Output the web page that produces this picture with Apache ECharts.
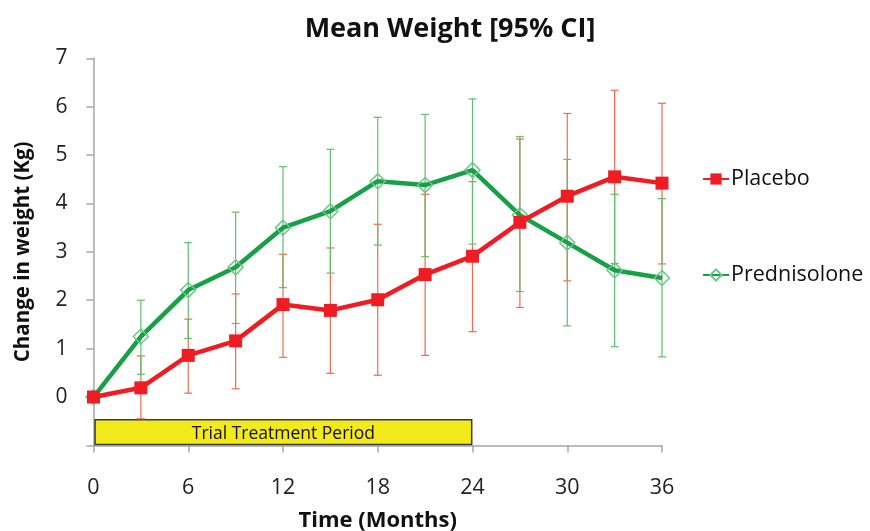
<!DOCTYPE html>
<html>
<head>
<meta charset="utf-8">
<script src="https://cdn.jsdelivr.net/npm/echarts@6/dist/echarts.min.js"></script>
<style>html,body{margin:0;padding:0;background:#fff;}#c{width:870px;height:531px;}</style>
</head>
<body>
<div id="c"></div>
<script>
var months = [0, 3, 6, 9, 12, 15, 18, 21, 24, 27, 30, 33, 36];
var placeboMean = [0, 0.19, 0.86, 1.16, 1.91, 1.79, 2.01, 2.53, 2.91, 3.61, 4.15, 4.55, 4.42];
var placeboLow  = [0, -0.45, 0.08, 0.17, 0.82, 0.49, 0.45, 0.86, 1.35, 1.85, 2.40, 2.76, 2.75];
var placeboHigh = [0, 0.85, 1.61, 2.13, 2.95, 3.08, 3.57, 4.19, 4.45, 5.33, 5.86, 6.34, 6.07];
var predMean = [0, 1.25, 2.21, 2.68, 3.50, 3.84, 4.46, 4.38, 4.69, 3.76, 3.19, 2.62, 2.46];
var predLow  = [0, 0.47, 1.21, 1.52, 2.26, 2.56, 3.14, 2.90, 3.16, 2.18, 1.47, 1.04, 0.83];
var predHigh = [0, 2.00, 3.19, 3.82, 4.76, 5.12, 5.78, 5.84, 6.16, 5.38, 4.91, 4.19, 4.10];
var seriesNames = ['Placebo', 'Prednisolone'];
var periodLabel = 'Trial Treatment Period';
var periodStart = 0, periodEnd = 24;

var FONT = 'Open Sans';
var RED = '#ee1d23', RED_BAR = '#f26a4f';
var GREEN = '#17a146', GREEN_BAR = '#5fbf6e', GREEN_SYM = '#6cc588';

function pairs(a, b) { return a.map(function (v, i) { return [v, b[i]]; }); }
function bars(a, lo, hi) {
  var out = [];
  for (var i = 0; i < a.length; i++) { if (lo[i] !== hi[i]) out.push([a[i], lo[i], hi[i]]); }
  return out;
}
function errRender(color) {
  return function (params, api) {
    var x = api.value(0), lo = api.value(1), hi = api.value(2);
    var pL = api.coord([x, lo]), pH = api.coord([x, hi]);
    var w = 4, st = { stroke: color, lineWidth: 1.2 };
    return { type: 'group', children: [
      { type: 'line', shape: { x1: pL[0], y1: pL[1], x2: pH[0], y2: pH[1] }, style: st },
      { type: 'line', shape: { x1: pL[0] - w, y1: pL[1], x2: pL[0] + w, y2: pL[1] }, style: st },
      { type: 'line', shape: { x1: pH[0] - w, y1: pH[1], x2: pH[0] + w, y2: pH[1] }, style: st }
    ] };
  };
}

var chart = echarts.init(document.getElementById('c'));
chart.setOption({
  animation: false,
  textStyle: { fontFamily: FONT },
  title: {
    text: 'Mean Weight [95% CI]', left: 445, top: 11, textAlign: 'center',
    textStyle: { fontFamily: FONT, fontSize: 27, fontWeight: 'bold', color: '#111' }
  },
  legend: {
    orient: 'vertical', left: 697, top: 163, itemGap: 74, itemWidth: 26, itemHeight: 14,
    data: seriesNames,
    textStyle: { fontFamily: FONT, fontSize: 21.5, color: '#111', padding: [0, 0, 0, -3] }
  },
  grid: { left: 93.5, right: 208, top: 58.3, bottom: 85.6, containLabel: false, outerBoundsMode: 'none' },
  xAxis: {
    type: 'value', min: 0, max: 36, interval: 6,
    name: 'Time (Months)', nameLocation: 'middle', nameGap: 64,
    nameTextStyle: { fontFamily: FONT, fontSize: 22, fontWeight: 'bold', color: '#111' },
    axisLine: { show: true, onZero: false, lineStyle: { color: '#a6a6a6', width: 1.5 } },
    axisTick: { show: true, length: 7, lineStyle: { color: '#a6a6a6', width: 1.5 } },
    axisLabel: { fontFamily: FONT, fontSize: 21.5, color: '#222', margin: 31 },
    splitLine: { show: false }
  },
  yAxis: {
    type: 'value', min: -1, max: 7, interval: 1,
    name: 'Change in weight (Kg)', nameLocation: 'middle', nameGap: 60,
    nameTextStyle: { fontFamily: FONT, fontSize: 20.5, fontWeight: 'bold', color: '#111' },
    axisLine: { show: true, lineStyle: { color: '#a6a6a6', width: 1.5 } },
    axisTick: { show: true, length: 7, lineStyle: { color: '#a6a6a6', width: 1.5 } },
    axisLabel: { fontFamily: FONT, fontSize: 21, color: '#222', margin: 26,
      formatter: function (v) { return v < 0 ? '' : String(v); } },
    splitLine: { show: false }
  },
  series: [
    { type: 'custom', name: 'pbErr', renderItem: errRender(RED_BAR), data: bars(months, placeboLow, placeboHigh),
      encode: { x: 0, y: [1, 2] }, z: 1, silent: true },
    { type: 'custom', name: 'prErr', renderItem: errRender(GREEN_BAR), data: bars(months, predLow, predHigh),
      encode: { x: 0, y: [1, 2] }, z: 1, silent: true },
    { type: 'line', name: seriesNames[1], data: pairs(months, predMean), z: 3,
      lineStyle: { color: GREEN, width: 4.5 }, symbol: 'diamond', symbolSize: 15,
      itemStyle: { color: 'rgba(255,255,255,0)', borderColor: GREEN_SYM, borderWidth: 1.5 } },
    { type: 'line', name: seriesNames[0], data: pairs(months, placeboMean), z: 4,
      lineStyle: { color: RED, width: 4.5 }, symbol: 'rect', symbolSize: 13,
      itemStyle: { color: RED, borderColor: RED, borderWidth: 0 } },
    { type: 'line', name: 'period', data: [], z: 10, silent: true,
      markArea: {
        silent: true,
        itemStyle: { color: '#f3ea1c', borderColor: '#3a3a3a', borderWidth: 1.5 },
        label: { show: true, position: 'inside', fontFamily: FONT, fontSize: 17.5, color: '#111', offset: [0, 2] },
        data: [[{ name: periodLabel, xAxis: periodStart + 0.1, yAxis: -0.47 }, { xAxis: periodEnd - 0.05, yAxis: -0.98 }]]
      }
    }
  ]
});
</script>
</body>
</html>
